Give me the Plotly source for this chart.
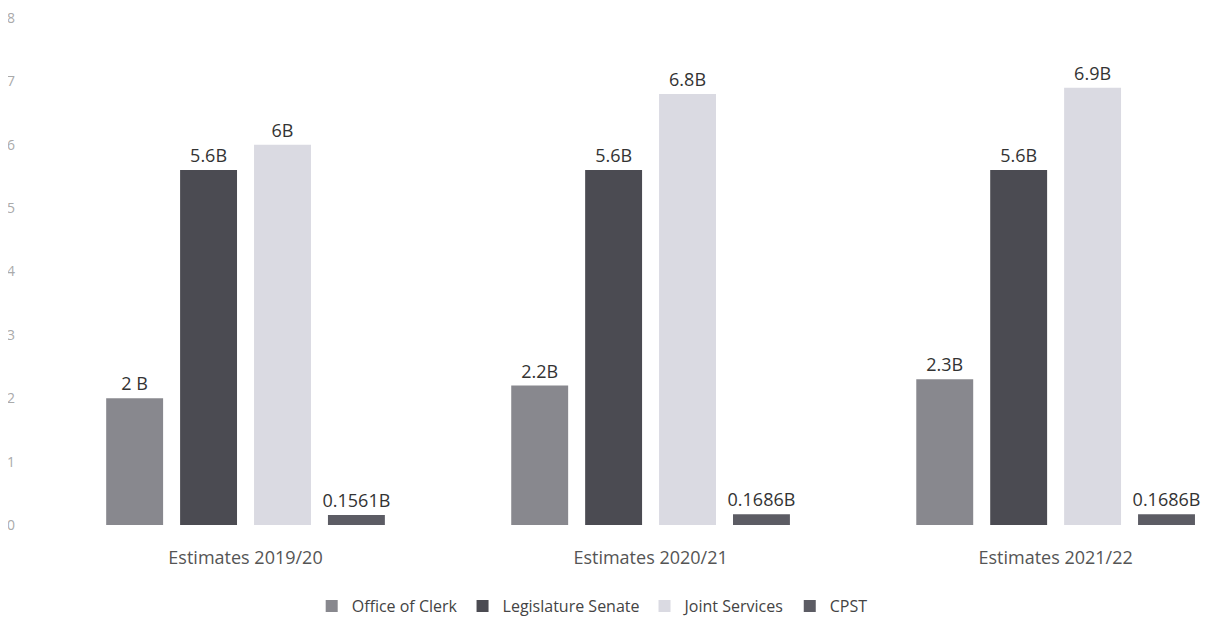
import plotly.graph_objects as go

categories = ["Estimates 2019/20", "Estimates 2020/21", "Estimates 2021/22"]
office = [2, 2.2, 2.3]
senate = [5.6, 5.6, 5.6]
joint = [6, 6.8, 6.9]
cpst = [0.1561, 0.1686, 0.1686]
office_txt = ["2 B", "2.2B", "2.3B"]
senate_txt = ["5.6B", "5.6B", "5.6B"]
joint_txt = ["6B", "6.8B", "6.9B"]
cpst_txt = ["0.1561B", "0.1686B", "0.1686B"]

series = [
    ("Office of Clerk", office, office_txt, "#88888e"),
    ("Legislature Senate", senate, senate_txt, "#4b4b52"),
    ("Joint Services", joint, joint_txt, "#dadae2"),
    ("CPST", cpst, cpst_txt, "#5c5c64"),
]

font = "Open Sans, Liberation Sans, sans-serif"
fig = go.Figure()
for name, vals, txt, col in series:
    fig.add_trace(go.Bar(
        name=name, x=categories, y=vals, text=txt,
        textposition="outside", cliponaxis=False, constraintext="none",
        textfont=dict(size=18, color="#333333", family=font),
        marker=dict(color=col, line=dict(width=0)),
    ))

fig.update_layout(
    width=1206, height=616,
    margin=dict(l=35, r=0, t=10, b=99, autoexpand=False),
    paper_bgcolor="white", plot_bgcolor="white",
    barmode="group", bargap=0.27, bargroupgap=0.23,
    font=dict(family=font),
    showlegend=True,
    legend=dict(orientation="h", x=0.469, xanchor="center", y=-0.16, yanchor="middle",
                font=dict(size=16, color="#444444"), itemwidth=30),
    xaxis=dict(range=[-0.5, 2.391], showgrid=False, showline=False, ticks="",
               automargin=False, ticklabelstandoff=20,
               tickfont=dict(size=18, color="#555555")),
    yaxis=dict(range=[0, 8], dtick=1, showgrid=False, zeroline=False, showline=False,
               automargin=False, ticklabeloverflow="allow",
               tickfont=dict(size=14, color="#aaaaaa"), ticklabelstandoff=27),
)

fig.write_html("out.html")
